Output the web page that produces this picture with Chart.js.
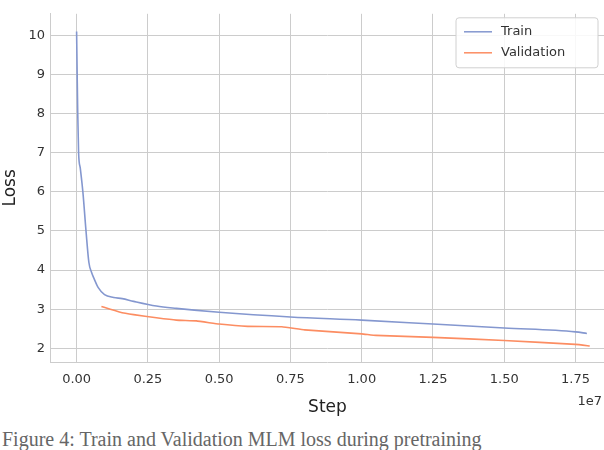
<!DOCTYPE html>
<html>
<head>
<meta charset="utf-8">
<script src="https://cdn.jsdelivr.net/npm/chart.js@4"></script>
<style>
  body { margin: 0; background: #fff; overflow: hidden; }
  #wrap { position: relative; width: 604px; height: 422px; }
  #caption { font-family: 'Liberation Serif', serif; font-size: 20px; color: #666; margin-top: 6px; padding-left: 2px; white-space: nowrap; }
</style>
</head>
<body>
<div id="wrap"><canvas id="c"></canvas></div>
<div id="caption">Figure 4: Train and Validation MLM loss during pretraining</div>
<script>
// steps in units of 1e7
const trainSteps = [0, 0.002, 0.004, 0.007, 0.013, 0.022, 0.033, 0.043, 0.052, 0.062, 0.076, 0.098, 0.13, 0.16, 0.2, 0.28, 0.35, 0.5, 0.75, 1.0, 1.25, 1.5, 1.75, 1.79];
const trainLoss  = [10.1, 9.0, 8.0, 7.0, 6.6, 6.0, 5.0, 4.2, 3.95, 3.77, 3.55, 3.37, 3.3, 3.27, 3.2, 3.08, 3.02, 2.92, 2.8, 2.72, 2.62, 2.52, 2.42, 2.38];
const valSteps = [0.087, 0.15, 0.2, 0.28, 0.35, 0.42, 0.5, 0.6, 0.72, 0.8, 1.0, 1.05, 1.25, 1.5, 1.75, 1.8];
const valLoss  = [3.07, 2.93, 2.86, 2.78, 2.72, 2.7, 2.62, 2.56, 2.55, 2.47, 2.37, 2.33, 2.28, 2.2, 2.1, 2.06];
const yTicks = [2, 3, 4, 5, 6, 7, 8, 9, 10];

const trainColor = '#8497cf';
const valColor = '#fc8d62';
const font = 'DejaVu Sans';

const toXY = (xs, ys) => xs.map((x, i) => ({ x: x, y: ys[i] }));

const legendBox = {
  id: 'legendBox',
  afterDraw(chart) {
    const { ctx, chartArea } = chart;
    const w = 142, h = 50, x = chartArea.right - w - 6, y = chartArea.top + 4;
    ctx.save();
    ctx.fillStyle = 'rgba(255,255,255,0.85)';
    ctx.strokeStyle = '#d0d0d0';
    ctx.lineWidth = 1;
    ctx.beginPath();
    ctx.roundRect(x, y, w, h, 3);
    ctx.fill(); ctx.stroke();
    ctx.font = '13px ' + font;
    ctx.textBaseline = 'middle';
    chart.data.datasets.forEach((ds, i) => {
      const ly = y + 14 + i * 21;
      ctx.strokeStyle = ds.borderColor;
      ctx.lineWidth = 1.5;
      ctx.beginPath(); ctx.moveTo(x + 8, ly); ctx.lineTo(x + 36, ly); ctx.stroke();
      ctx.fillStyle = '#333';
      ctx.fillText(ds.label, x + 45, ly);
    });
    ctx.fillStyle = '#333';
    ctx.textAlign = 'right';
    ctx.fillText('1e7', chart.width - 2, chartArea.bottom + 40);
    ctx.restore();
  }
};

new Chart(document.getElementById('c'), {
  type: 'line',
  data: {
    datasets: [
      { label: 'Train', data: toXY(trainSteps, trainLoss), borderColor: trainColor, borderWidth: 1.6, pointRadius: 0, cubicInterpolationMode: 'monotone', fill: false },
      { label: 'Validation', data: toXY(valSteps, valLoss), borderColor: valColor, borderWidth: 1.6, pointRadius: 0, tension: 0.1, fill: false }
    ]
  },
  options: {
    responsive: true,
    maintainAspectRatio: false,
    animation: false,
    layout: { padding: { right: 0, top: 0, bottom: 0 } },
    plugins: { legend: { display: false }, tooltip: { enabled: false } },
    scales: {
      x: {
        type: 'linear', min: -0.09, max: 1.85,
        afterBuildTicks: axis => { axis.ticks = [0, 0.25, 0.5, 0.75, 1, 1.25, 1.5, 1.75].map(v => ({ value: v })); },
        grid: { color: '#cccccc', lineWidth: 1, drawTicks: false },
        border: { color: '#cccccc' },
        ticks: { padding: 10, color: '#333', font: { family: font, size: 13 }, callback: v => v.toFixed(2) },
        title: { display: true, text: 'Step', color: '#222', font: { family: font, size: 17 }, padding: { top: 0 } }
      },
      y: {
        min: 1.65, max: 10.55,
        afterBuildTicks: axis => { axis.ticks = yTicks.map(v => ({ value: v })); },
        grid: { color: '#cccccc', lineWidth: 1, drawTicks: false },
        border: { color: '#cccccc' },
        ticks: { padding: 6, color: '#333', font: { family: font, size: 13 } },
        title: { display: true, text: 'Loss', color: '#222', font: { family: font, size: 17 }, padding: { top: 0, bottom: 2 } }
      }
    }
  },
  plugins: [legendBox]
});
</script>
</body>
</html>
